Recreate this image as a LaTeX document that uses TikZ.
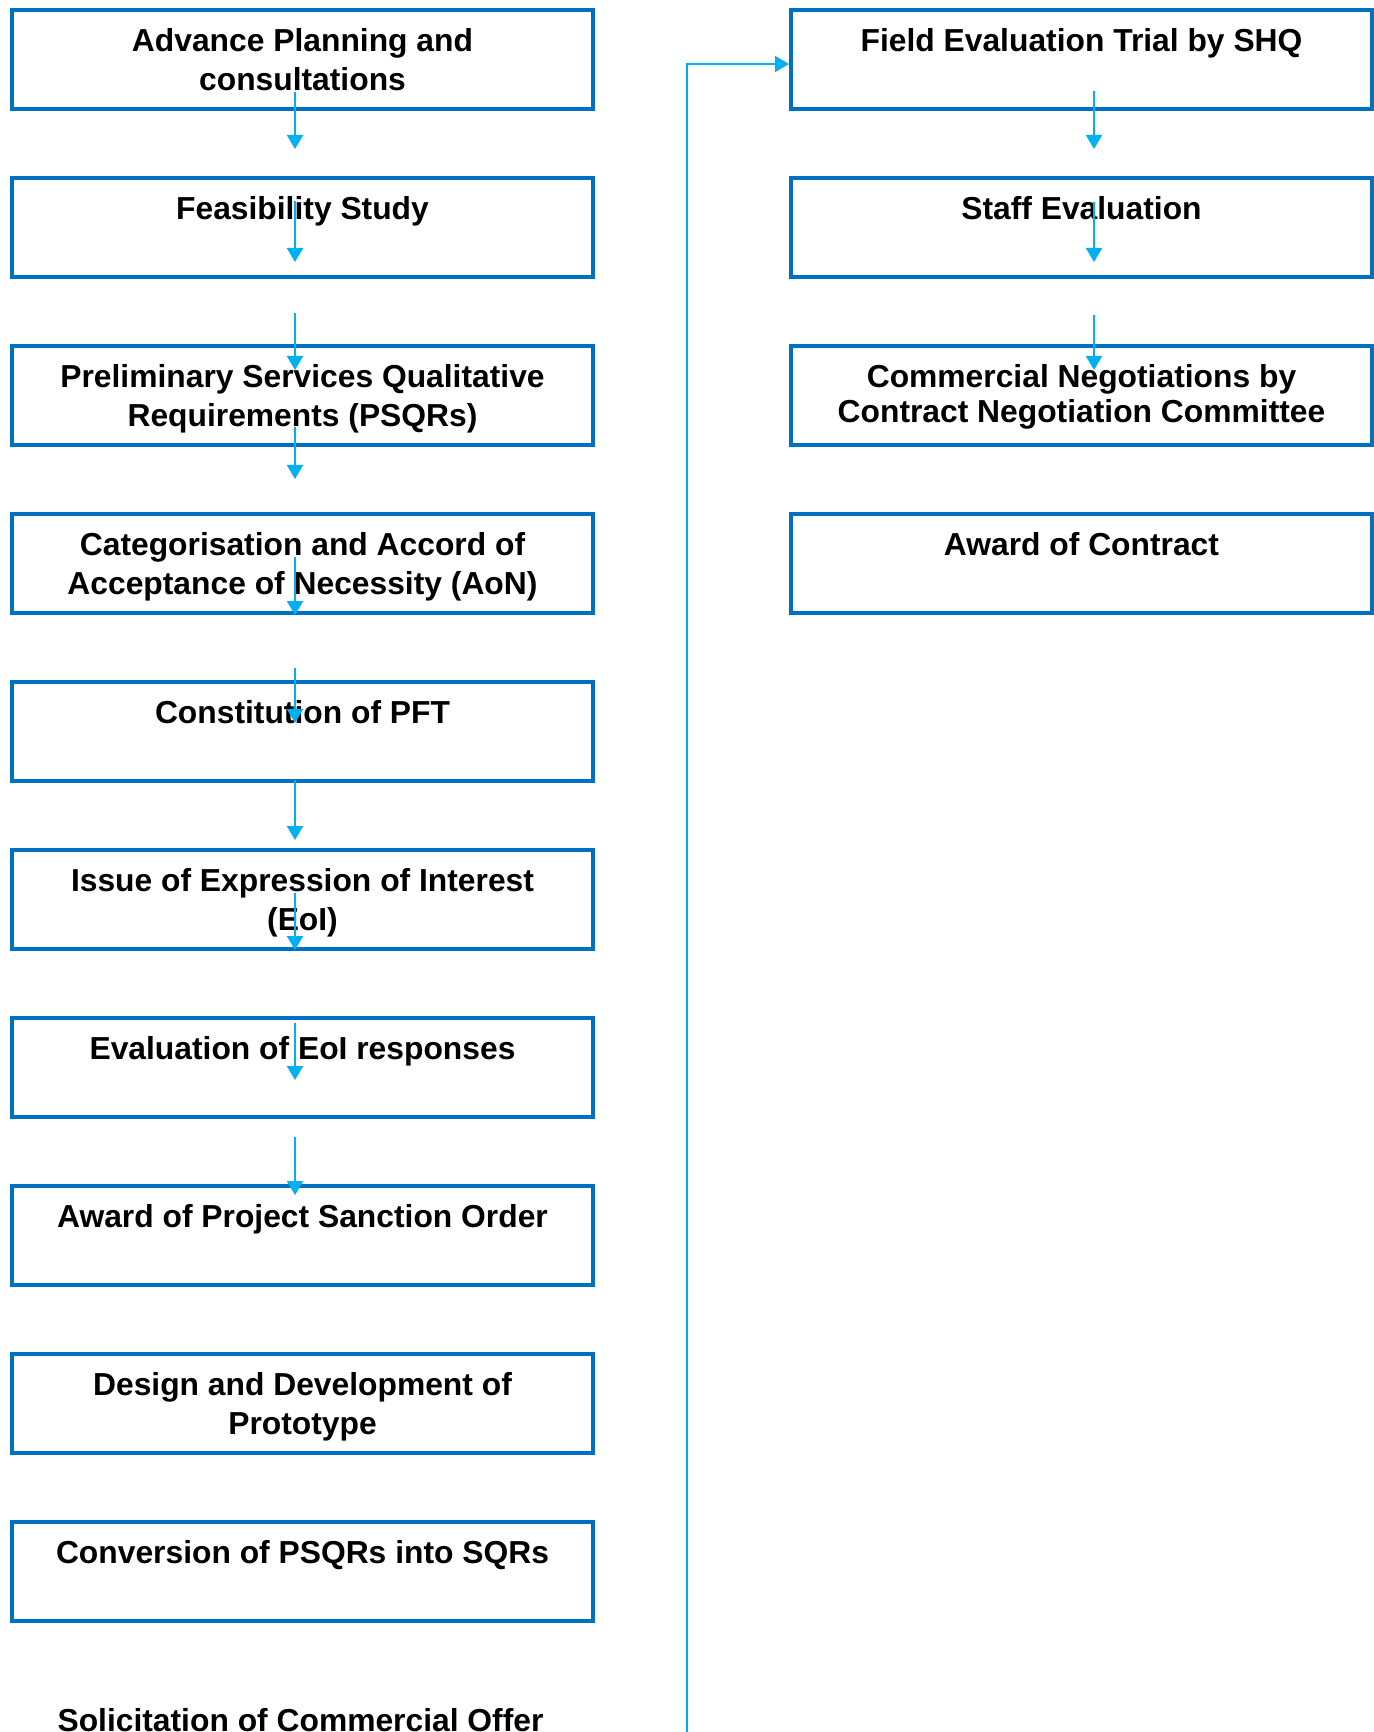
\documentclass[tikz,border=0pt]{standalone}
\usepackage{fontspec}
\setmainfont{Liberation Sans}
\usetikzlibrary{arrows.meta}
\definecolor{boxblue}{RGB}{0,112,192}
\definecolor{arrblue}{RGB}{0,176,240}
\tikzset{
  box/.style={draw=boxblue, line width=2pt, rectangle, inner sep=0pt,
    minimum width=290.5pt, minimum height=49.5pt, anchor=north west},
  txt/.style={anchor=north, align=center, inner sep=0pt,
    font=\fontsize{15.9}{19.3}\selectfont\bfseries},
  flow/.style={draw=arrblue, line width=1pt, -{Triangle[length=7pt,width=8pt]}},
  conn/.style={draw=arrblue, line width=1pt, -{Triangle[length=7pt,width=8pt]}},
}
\begin{document}
\begin{tikzpicture}[x=0.5pt,y=-0.5pt]
\useasboundingbox (0,0) rectangle (1373,1732);
% left column boxes
\node[box] (L1) at (10,8) {};
\node[box] (L2) at (10,176) {};
\node[box] (L3) at (10,344) {};
\node[box] (L4) at (10,512) {};
\node[box] (L5) at (10,680) {};
\node[box] (L6) at (10,848) {};
\node[box] (L7) at (10,1016) {};
\node[box] (L8) at (10,1184) {};
\node[box] (L9) at (10,1352) {};
\node[box] (L10) at (10,1520) {};
% right column boxes
\node[box] (R1) at (789,8) {};
\node[box] (R2) at (789,176) {};
\node[box] (R3) at (789,344) {};
\node[box] (R4) at (789,512) {};
% texts
\node[txt] (tL1) at ([yshift=-10pt]L1.north) {Advance Planning and\\consultations};
\node[txt] (tL2) at ([yshift=-10pt]L2.north) {Feasibility Study};
\node[txt] (tL3) at ([yshift=-10pt]L3.north) {Preliminary Services Qualitative\\Requirements (PSQRs)};
\node[txt] (tL4) at ([yshift=-10pt]L4.north) {Categorisation and Accord of\\Acceptance of Necessity (AoN)};
\node[txt] (tL5) at ([yshift=-10pt]L5.north) {Constitution of PFT};
\node[txt] (tL6) at ([yshift=-10pt]L6.north) {Issue of Expression of Interest\\(EoI)};
\node[txt] (tL7) at ([yshift=-10pt]L7.north) {Evaluation of EoI responses};
\node[txt] (tL8) at ([yshift=-10pt]L8.north) {Award of Project Sanction Order};
\node[txt] (tL9) at ([yshift=-10pt]L9.north) {Design and Development of\\Prototype};
\node[txt] (tL10) at ([yshift=-10pt]L10.north) {Conversion of PSQRs into SQRs};
\node[txt] (tL11) at (300.5,1708) {Solicitation of Commercial Offer};
\node[txt] (tR1) at ([yshift=-10pt]R1.north) {Field Evaluation Trial by SHQ};
\node[txt] (tR2) at ([yshift=-10pt]R2.north) {Staff Evaluation};
\node[txt, font=\fontsize{15.9}{17.6}\selectfont\bfseries] (tR3) at ([yshift=-10pt]R3.north) {Commercial Negotiations by\\Contract Negotiation Committee};
\node[txt] (tR4) at ([yshift=-10pt]R4.north) {Award of Contract};
% arrow end points (left column)
\coordinate (a1s) at (295,92);   \coordinate (a1e) at (295,149);
\coordinate (a2s) at (295,201);  \coordinate (a2e) at (295,262);
\coordinate (a3s) at (295,313);  \coordinate (a3e) at (295,370);
\coordinate (a4s) at (295,427);  \coordinate (a4e) at (295,479);
\coordinate (a5s) at (295,557);  \coordinate (a5e) at (295,615);
\coordinate (a6s) at (295,668);  \coordinate (a6e) at (295,723);
\coordinate (a7s) at (295,780);  \coordinate (a7e) at (295,840);
\coordinate (a8s) at (295,893);  \coordinate (a8e) at (295,950);
\coordinate (a9s) at (295,1023); \coordinate (a9e) at (295,1080);
\coordinate (a10s) at (295,1137); \coordinate (a10e) at (295,1195);
% right column
\coordinate (b1s) at (1094,91);  \coordinate (b1e) at (1094,149);
\coordinate (b2s) at (1094,202); \coordinate (b2e) at (1094,262);
\coordinate (b3s) at (1094,315); \coordinate (b3e) at (1094,370);
\foreach \i in {1,...,10} { \draw[flow] (a\i s) -- (a\i e); }
\foreach \i in {1,2,3} { \draw[flow] (b\i s) -- (b\i e); }
% long connector
\coordinate (cstart) at (687,1732);
\draw[conn] (cstart) |- ([yshift=-2.25pt]R1.west);
\end{tikzpicture}
\end{document}
